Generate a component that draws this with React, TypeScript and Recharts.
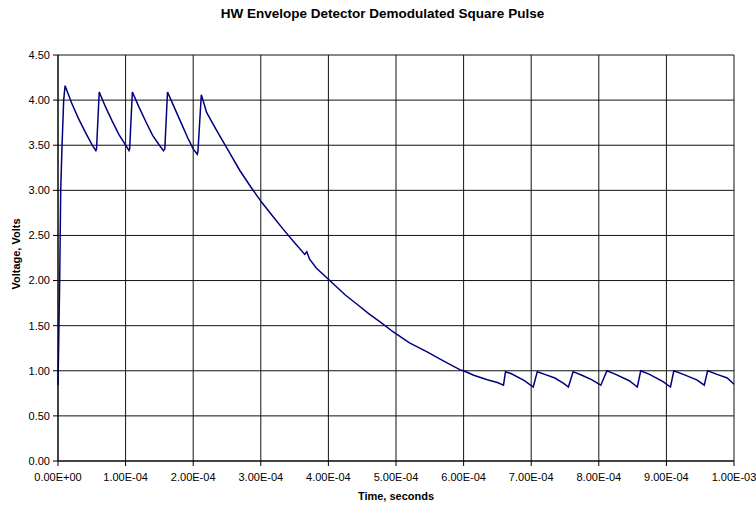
import React from "react";
import { LineChart, Line, XAxis, YAxis, CartesianGrid } from "recharts";

// Time in microseconds (axis shown in seconds via tick labels)
const timeUs: number[] = [
  0, 1, 2.5, 4, 6, 8.4, 10.5, 13, 20, 30, 40, 50, 56,
  57, 61, 70, 80, 90, 100, 105,
  106, 110, 120, 130, 140, 150, 156,
  158, 162, 172, 182, 192, 200, 206,
  207, 212, 220, 235, 249, 269, 285, 301, 318, 333, 350, 365, 368, 372, 382,
  402, 425, 447, 460, 477, 496, 520, 546, 570, 595, 600, 615, 635, 650, 659,
  662, 670, 690, 703,
  709, 720, 735, 748, 755,
  762, 775, 790, 803,
  812, 825, 845, 857,
  862, 875, 895, 906,
  911, 925, 945, 956,
  961, 975, 990, 1000,
];

const volts: number[] = [
  0.84, 1.3, 2.0, 3.0, 3.5, 4.0, 4.16, 4.11, 3.97, 3.8, 3.65, 3.51, 3.44,
  3.46, 4.09, 3.93, 3.77, 3.62, 3.5, 3.44,
  3.46, 4.09, 3.92, 3.76, 3.61, 3.5, 3.44,
  3.46, 4.09, 3.92, 3.75, 3.58, 3.46, 3.4,
  3.43, 4.06, 3.86, 3.66, 3.48, 3.22, 3.04, 2.87, 2.71, 2.57, 2.42, 2.29, 2.32, 2.24, 2.14,
  2.0, 1.84, 1.71, 1.63, 1.54, 1.43, 1.31, 1.21, 1.11, 1.01, 1.0, 0.95, 0.9, 0.87, 0.84,
  0.99, 0.97, 0.89, 0.82,
  0.99, 0.96, 0.92, 0.86, 0.82,
  0.99, 0.95, 0.9, 0.84,
  1.0, 0.96, 0.89, 0.82,
  1.0, 0.96, 0.88, 0.82,
  1.0, 0.96, 0.9, 0.84,
  1.0, 0.96, 0.92, 0.85,
];

const xTicks: number[] = [0, 100, 200, 300, 400, 500, 600, 700, 800, 900, 1000];
const xTickLabels: string[] = [
  "0.00E+00", "1.00E-04", "2.00E-04", "3.00E-04", "4.00E-04", "5.00E-04",
  "6.00E-04", "7.00E-04", "8.00E-04", "9.00E-04", "1.00E-03",
];
const yTicks: number[] = [0, 0.5, 1, 1.5, 2, 2.5, 3, 3.5, 4, 4.5];
const yTickLabels: string[] = ["0.00", "0.50", "1.00", "1.50", "2.00", "2.50", "3.00", "3.50", "4.00", "4.50"];

const title = "HW Envelope Detector Demodulated Square Pulse";
const xTitle = "Time, seconds";
const yTitle = "Voltage, Volts";

const data = timeUs.map((t, i) => ({ t, v: volts[i] }));

const FONT = "'Liberation Sans', Arial, sans-serif";

export default function App() {
  return (
    <div style={{ position: "absolute", left: 0, top: 0, width: 756, height: 506, background: "#fff" }}>
      <div
        style={{
          position: "absolute",
          left: 0,
          top: 6,
          width: 756,
          paddingLeft: 9,
          boxSizing: "border-box",
          textAlign: "center",
          fontFamily: FONT,
          fontWeight: "bold",
          fontSize: 13.5,
          lineHeight: "16px",
          color: "#000",
        }}
      >
        {title}
      </div>
      <LineChart
        width={756}
        height={506}
        data={data}
        margin={{ top: 55, right: 22, left: 0, bottom: 0 }}
      >
        <CartesianGrid stroke="#111" strokeWidth={1} />
        <XAxis
          type="number"
          dataKey="t"
          domain={[0, 1000]}
          ticks={xTicks}
          interval={0}
          tickFormatter={(v: number, i: number) => xTickLabels[i]}
          height={45}
          tickSize={5}
          tickMargin={7}
          stroke="#000"
          tick={{ fontSize: 11, fill: "#000", fontFamily: FONT }}
          label={{
            value: xTitle,
            position: "insideBottom",
            offset: 6,
            style: { fontSize: 11, fontWeight: "bold", fill: "#000", fontFamily: FONT },
          }}
        />
        <YAxis
          type="number"
          domain={[0, 4.5]}
          ticks={yTicks}
          interval={0}
          tickFormatter={(v: number, i: number) => yTickLabels[i]}
          width={58}
          tickSize={5}
          tickMargin={3}
          stroke="#000"
          tick={{ fontSize: 11, fill: "#000", fontFamily: FONT }}
          label={{
            content: (props: any) => {
              const vb = props.viewBox || { x: 0, y: 55, width: 58, height: 406 };
              const cx = 16;
              const cy = vb.y + vb.height / 2 - 4;
              return (
                <text
                  x={cx}
                  y={cy}
                  transform={`rotate(-90 ${cx} ${cy})`}
                  textAnchor="middle"
                  dominantBaseline="central"
                  style={{ fontSize: 11, fontWeight: "bold", fill: "#000", fontFamily: FONT }}
                >
                  {yTitle}
                </text>
              );
            },
          }}
        />
        <Line
          type="linear"
          dataKey="v"
          stroke="#000080"
          strokeWidth={1.5}
          dot={false}
          isAnimationActive={false}
        />
      </LineChart>
    </div>
  );
}
